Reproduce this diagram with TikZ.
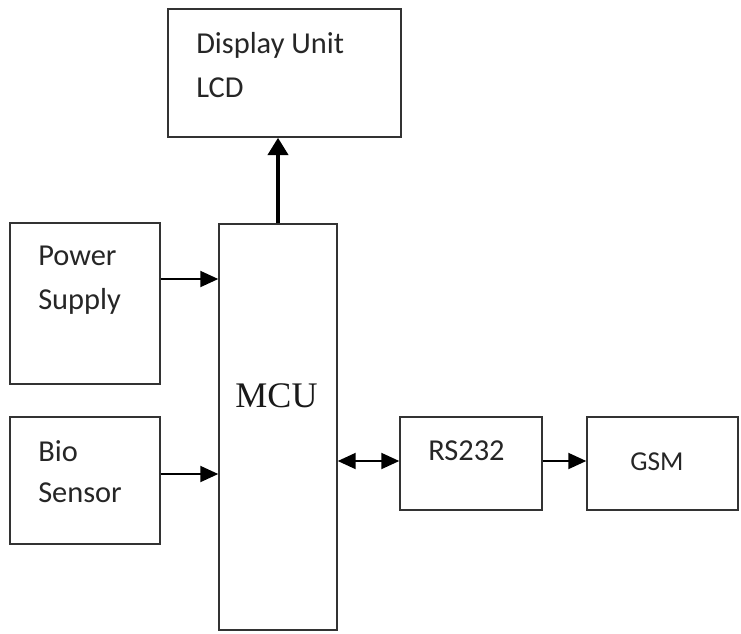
\documentclass[tikz,border=0pt]{standalone}
\usepackage{fontspec}
\setmainfont{Carlito}
\newfontfamily\mcufont{Liberation Serif}
\usetikzlibrary{arrows.meta}
\tikzset{
  blk/.style={draw=black!80, line width=1.1pt, fill=white, inner sep=0pt},
  lbl/.style={anchor=base west, inner sep=0pt, font=\fontsize{22.8}{26}\selectfont, text=black!85},
  thinarrow/.style={line width=1.5pt, -{Triangle[length=13.5pt,width=12pt]}},
  dblarrow/.style={line width=1.5pt, {Triangle[length=13.5pt,width=12pt]}-{Triangle[length=13.5pt,width=12pt]}},
  thickarrow/.style={line width=3pt, -{Triangle[length=13pt,width=15pt]}}
}
\begin{document}
\begin{tikzpicture}[x=0.75pt,y=-0.75pt]
\useasboundingbox[fill=white] (0,0) rectangle (741,633);
\node[blk, minimum width=233*0.75pt, minimum height=128*0.75pt] (disp) at (284.5,73) {};
\node[blk, minimum width=150*0.75pt, minimum height=161*0.75pt] (pow) at (85,303.5) {};
\node[blk, minimum width=118*0.75pt, minimum height=406*0.75pt] (mcu) at (278,427) {};
\node[blk, minimum width=150*0.75pt, minimum height=127*0.75pt] (bio) at (85,480.5) {};
\node[blk, minimum width=142*0.75pt, minimum height=93*0.75pt] (rs) at (471,463.5) {};
\node[blk, minimum width=151*0.75pt, minimum height=93*0.75pt] (gsm) at (662.5,463.5) {};

\node[lbl] (t1) at (196,53) {Display Unit};
\node[lbl] (t2) at (196,97) {LCD};
\node[lbl] (t3) at (38,265) {Power};
\node[lbl] (t4) at (38,309) {Supply};
\node[lbl] (t5) at (38,461) {Bio};
\node[lbl] (t6) at (38,502) {Sensor};
\node[lbl] (t7) at (428,460) {RS232};
\node[lbl, font=\fontsize{20.5}{24}\selectfont] (t8) at (630,470) {GSM};
\node[anchor=base, inner sep=0pt, font=\mcufont\fontsize{27}{30}\selectfont, text=black!90] (t9) at (276.5,407) {MCU};

\draw[thickarrow] (mcu.north -| 278,0) -- (disp.south -| 278,0);
\draw[thinarrow] (pow.east |- 0,279) -- (mcu.west |- 0,279);
\draw[thinarrow] (bio.east |- 0,474) -- (mcu.west |- 0,474);
\draw[dblarrow] (mcu.east |- 0,461) -- (rs.west |- 0,461);
\draw[thinarrow] (rs.east |- 0,461) -- (gsm.west |- 0,461);
\end{tikzpicture}
\end{document}
